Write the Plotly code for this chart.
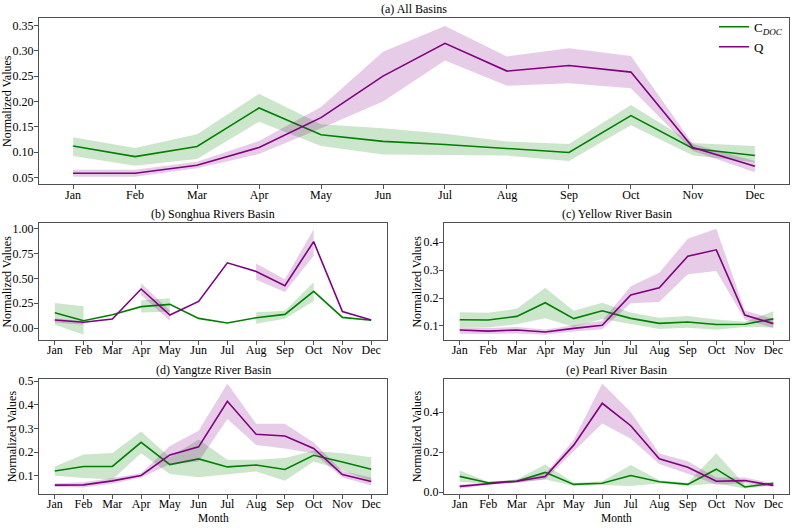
import plotly.graph_objects as go

months = ["Jan", "Feb", "Mar", "Apr", "May", "Jun", "Jul", "Aug", "Sep", "Oct", "Nov", "Dec"]

# (a) All Basins
a_doc = [0.112, 0.091, 0.111, 0.187, 0.134, 0.121, 0.115, 0.107, 0.099, 0.172, 0.107, 0.093]
a_doc_lo = [0.092, 0.073, 0.086, 0.160, 0.112, 0.095, 0.094, 0.093, 0.082, 0.153, 0.093, 0.080]
a_doc_hi = [0.129, 0.108, 0.135, 0.215, 0.155, 0.147, 0.136, 0.121, 0.116, 0.193, 0.118, 0.112]
a_q = [0.058, 0.058, 0.074, 0.109, 0.168, 0.250, 0.315, 0.260, 0.271, 0.258, 0.109, 0.072]
a_q_lo = [0.051, 0.051, 0.068, 0.096, 0.147, 0.200, 0.281, 0.231, 0.236, 0.226, 0.102, 0.060]
a_q_hi = [0.065, 0.065, 0.081, 0.122, 0.189, 0.298, 0.349, 0.289, 0.305, 0.290, 0.116, 0.082]

# (b) Songhua Rivers Basin
b_doc = [0.154, 0.075, 0.134, 0.216, 0.239, 0.098, 0.052, 0.105, 0.138, 0.370, 0.108, 0.079]
b_doc_lo = [0.035, -0.066, None, 0.157, 0.164, None, None, 0.043, 0.095, 0.272, None, None]
b_doc_hi = [0.252, 0.220, None, 0.279, 0.300, None, None, 0.160, 0.174, 0.462, None, None]
b_q = [0.082, 0.059, 0.092, 0.393, 0.131, 0.269, 0.656, 0.570, 0.426, 0.869, 0.166, 0.082]
b_q_lo = [0.056, 0.033, None, 0.334, 0.075, None, None, 0.485, 0.364, 0.728, None, None]
b_q_hi = [0.098, 0.072, None, 0.452, 0.177, None, None, 0.649, 0.492, 0.993, None, None]

# (c) Yellow River Basin
c_doc = [0.122, 0.121, 0.134, 0.183, 0.126, 0.154, 0.127, 0.109, 0.114, 0.105, 0.106, 0.125]
c_doc_lo = [0.094, 0.094, 0.106, 0.127, 0.096, 0.125, 0.106, 0.089, 0.093, 0.086, 0.096, 0.094]
c_doc_hi = [0.149, 0.147, 0.161, 0.237, 0.154, 0.183, 0.148, 0.129, 0.135, 0.123, 0.115, 0.152]
c_q = [0.085, 0.081, 0.085, 0.078, 0.091, 0.102, 0.211, 0.237, 0.350, 0.373, 0.139, 0.108]
c_q_lo = [0.072, 0.071, 0.073, 0.068, 0.080, 0.088, 0.181, 0.186, 0.285, 0.297, 0.123, 0.092]
c_q_hi = [0.094, 0.092, 0.096, 0.087, 0.102, 0.118, 0.242, 0.291, 0.413, 0.449, 0.155, 0.125]

# (d) Yangtze River Basin
d_doc = [0.120, 0.139, 0.139, 0.241, 0.147, 0.171, 0.137, 0.145, 0.126, 0.186, 0.158, 0.127]
d_doc_lo = [0.100, 0.090, 0.084, 0.195, 0.107, 0.093, 0.105, 0.118, 0.078, 0.160, 0.123, 0.075]
d_doc_hi = [0.139, 0.190, 0.196, 0.287, 0.178, 0.253, 0.167, 0.167, 0.175, 0.205, 0.195, 0.178]
d_q = [0.060, 0.061, 0.078, 0.101, 0.188, 0.222, 0.415, 0.275, 0.268, 0.215, 0.105, 0.075]
d_q_lo = [0.052, 0.050, 0.066, 0.092, 0.148, 0.160, 0.340, 0.230, 0.215, 0.195, 0.092, 0.058]
d_q_hi = [0.068, 0.072, 0.090, 0.110, 0.226, 0.290, 0.490, 0.320, 0.320, 0.240, 0.120, 0.092]

# (e) Pearl River Basin
e_doc = [0.079, 0.047, 0.055, 0.099, 0.039, 0.045, 0.083, 0.052, 0.039, 0.115, 0.026, 0.044]
e_doc_lo = [0.052, 0.040, 0.047, 0.063, 0.032, 0.036, 0.031, 0.044, 0.032, 0.044, 0.019, 0.032]
e_doc_hi = [0.108, 0.052, 0.063, 0.138, 0.047, 0.055, 0.136, 0.060, 0.047, 0.194, 0.039, 0.050]
e_q = [0.029, 0.042, 0.055, 0.078, 0.235, 0.444, 0.332, 0.167, 0.125, 0.055, 0.058, 0.034]
e_q_lo = [0.019, 0.037, 0.047, 0.065, 0.206, 0.343, 0.267, 0.141, 0.092, 0.037, 0.045, 0.026]
e_q_hi = [0.039, 0.047, 0.063, 0.092, 0.262, 0.543, 0.400, 0.193, 0.154, 0.073, 0.073, 0.044]

panels = [
    ("(a) All Basins", a_doc, a_doc_lo, a_doc_hi, a_q, a_q_lo, a_q_hi),
    ("(b) Songhua Rivers Basin", b_doc, b_doc_lo, b_doc_hi, b_q, b_q_lo, b_q_hi),
    ("(c) Yellow River Basin", c_doc, c_doc_lo, c_doc_hi, c_q, c_q_lo, c_q_hi),
    ("(d) Yangtze River Basin", d_doc, d_doc_lo, d_doc_hi, d_q, d_q_lo, d_q_hi),
    ("(e) Pearl River Basin", e_doc, e_doc_lo, e_doc_hi, e_q, e_q_lo, e_q_hi),
]

W, H = 794, 528
# pixel boxes (left, right, top, bottom)
boxes = [(39, 789, 13, 183), (39, 387, 223, 342), (444, 789, 223, 342),
         (39, 387, 382, 499), (444, 789, 382, 499)]
yranges = [[0.0364, 0.3655], [-0.118, 1.053], [0.0497, 0.468], [0.024, 0.509], [-0.007, 0.565]]
ytickvals = [[0.05, 0.10, 0.15, 0.20, 0.25, 0.30, 0.35], [0.0, 0.25, 0.5, 0.75, 1.0],
             [0.1, 0.2, 0.3, 0.4], [0.1, 0.2, 0.3, 0.4, 0.5], [0.0, 0.2, 0.4]]
ytickfmt = [".2f", ".2f", ".1f", ".1f", ".1f"]
ylabel_x = [7, 7, 417, 12, 417]

GREEN = "#008000"
PURPLE = "#800080"
GREEN_F = "rgba(0,128,0,0.2)"
PURPLE_F = "rgba(128,0,128,0.2)"
FONT = "Liberation Serif, Times New Roman, serif"
SPINE = "rgb(80,80,80)"
FS = 12

xs = list(range(len(months)))


def band_xy(lo, hi):
    bx, by = [], []
    seg = []
    segs = []
    for i in xs:
        if lo[i] is not None and hi[i] is not None:
            seg.append(i)
        else:
            if len(seg) > 1:
                segs.append(seg)
            seg = []
    if len(seg) > 1:
        segs.append(seg)
    for s in segs:
        if bx:
            bx.append(None)
            by.append(None)
        bx += s + s[::-1]
        by += [hi[i] for i in s] + [lo[i] for i in s[::-1]]
    return bx, by


fig = go.Figure()
annotations = []
layout = {}
for k, (title, doc, doc_lo, doc_hi, q, q_lo, q_hi) in enumerate(panels):
    sfx = "" if k == 0 else str(k + 1)
    xa, ya = "x" + sfx, "y" + sfx
    for (vals, lo, hi, col, fcol, name) in [
        (doc, doc_lo, doc_hi, GREEN, GREEN_F, "C<sub><i>DOC</i></sub>"),
        (q, q_lo, q_hi, PURPLE, PURPLE_F, "Q"),
    ]:
        bx, by = band_xy(lo, hi)
        fig.add_trace(go.Scatter(x=bx, y=by, xaxis=xa, yaxis=ya, mode="lines",
                                 line=dict(width=0, color=fcol), fill="toself",
                                 fillcolor=fcol, showlegend=False, hoverinfo="skip"))
        fig.add_trace(go.Scatter(x=xs, y=vals, xaxis=xa, yaxis=ya, mode="lines",
                                 line=dict(color=col, width=1.6), name=name,
                                 showlegend=(k == 0)))
    l, r, t, b = boxes[k]
    xd = [l / W, r / W]
    yd = [1 - b / H, 1 - t / H]
    common = dict(showline=True, mirror=True, linecolor=SPINE, linewidth=1,
                  ticks="outside", ticklen=4, tickcolor=SPINE, tickwidth=1,
                  showgrid=False, zeroline=False,
                  tickfont=dict(family=FONT, size=FS, color="black"))
    layout["xaxis" + sfx] = dict(domain=xd, range=[-0.55, 11.55], tickvals=xs, ticktext=months,
                                 anchor=ya, ticklabelstandoff=-5, **common)
    layout["yaxis" + sfx] = dict(domain=yd, range=yranges[k], tickvals=ytickvals[k],
                                 tickformat=ytickfmt[k], anchor=xa, ticklabelstandoff=-2, **common)
    annotations.append(dict(text=title, x=(l + r) / 2 / W, y=1 - t / H, xref="paper", yref="paper",
                            xanchor="center", yanchor="bottom", yshift=0, showarrow=False,
                            font=dict(family=FONT, size=FS, color="black")))
    annotations.append(dict(text="Normalized Values", x=ylabel_x[k] / W, y=1 - (t + b) / 2 / H,
                            xref="paper", yref="paper", xanchor="center", yanchor="middle",
                            textangle=-90, showarrow=False,
                            font=dict(family=FONT, size=FS, color="black")))
    if k >= 3:
        annotations.append(dict(text="Month", x=(l + r) / 2 / W, y=0, yshift=-4,
                                xref="paper", yref="paper", xanchor="center", yanchor="bottom",
                                showarrow=False, font=dict(family=FONT, size=11.5, color="black")))

fig.update_layout(
    width=W, height=H, margin=dict(l=0, r=0, t=0, b=0),
    paper_bgcolor="white", plot_bgcolor="white",
    font=dict(family=FONT, size=FS, color="black"),
    annotations=annotations,
    legend=dict(x=1 - 6 / W, xanchor="right", y=1 - 7 / H, yanchor="top",
                bgcolor="rgba(255,255,255,0)", borderwidth=0, itemwidth=30,
                font=dict(family=FONT, size=13, color="black"), tracegroupgap=0),
    **layout,
)
fig.write_html("out.html")
